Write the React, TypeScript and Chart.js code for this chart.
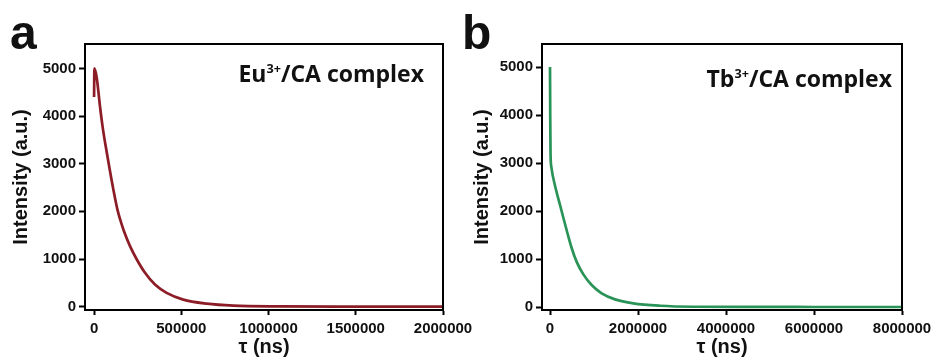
import React, { useEffect, useRef } from "react";
import { Chart, registerables } from "chart.js";

Chart.register(...registerables);

// ---- Data ----
const euTime = [0, 1700, 15000, 34000, 48000, 63000, 86000, 110000, 135000, 152000, 170000, 206000, 245000, 292000, 349000, 416000, 511000, 645000, 798000, 1065000, 1500000, 2000000];
const euIntensity = [4400, 5000, 4810, 4200, 3800, 3445, 2955, 2470, 2020, 1800, 1600, 1270, 990, 710, 463, 288, 147, 63, 21, 6, 2, 0];

const tbTime = [0, 5000, 12000, 30000, 121000, 227000, 303000, 379000, 492000, 606000, 758000, 947000, 1174000, 1477000, 1894000, 2500000, 3257000, 4500000, 6000000, 8000000];
const tbIntensity = [5000, 4000, 3200, 2920, 2500, 2130, 1860, 1600, 1230, 940, 680, 458, 285, 160, 77, 27, 6, 2, 1, 0];

const euXTicks = [0, 500000, 1000000, 1500000, 2000000];
const tbXTicks = [0, 2000000, 4000000, 6000000, 8000000];
const yTicks = [0, 1000, 2000, 3000, 4000, 5000];

const yTitle = "Intensity (a.u.)";
const xTitle = "τ (ns)";

const tickFont = { family: "'Liberation Sans', Arial, sans-serif", size: 15, weight: "bold" as const };
const titleFont = { family: "'Liberation Sans', Arial, sans-serif", size: 20, weight: "bold" as const };

const framePlugin = {
  id: "frame",
  afterDraw(chart: any) {
    const { ctx, chartArea } = chart;
    ctx.save();
    ctx.strokeStyle = "#000";
    ctx.lineWidth = 2;
    ctx.strokeRect(chartArea.left, chartArea.top, chartArea.right - chartArea.left, chartArea.bottom - chartArea.top);
    ctx.restore();
  },
};

type PanelOpts = {
  xs: number[];
  ys: number[];
  color: string;
  xMin: number;
  xMax: number;
  yMin: number;
  yMax: number;
  xTicks: number[];
  yAxisWidth: number;
  padRight: number;
  yTitlePad: number;
};

function makeConfig(p: PanelOpts): any {
  return {
    type: "line",
    data: {
      datasets: [
        {
          data: p.xs.map((x, i) => ({ x, y: p.ys[i] })),
          borderColor: p.color,
          borderWidth: 2.7,
          pointRadius: 0,
          fill: false,
          cubicInterpolationMode: "monotone",
        },
      ],
    },
    options: {
      animation: false,
      responsive: false,
      devicePixelRatio: 1,
      layout: { padding: { left: 0, top: 44, right: p.padRight, bottom: 0 } },
      plugins: { legend: { display: false }, tooltip: { enabled: false } },
      scales: {
        x: {
          type: "linear",
          min: p.xMin,
          max: p.xMax,
          afterBuildTicks: (s: any) => {
            s.ticks = p.xTicks.map((v) => ({ value: v }));
          },
          afterFit: (s: any) => {
            s.height = 50;
            s.paddingLeft = 0;
            s.paddingRight = 0;
          },
          grid: { drawOnChartArea: false, drawTicks: true, tickLength: 5, tickWidth: 2, tickColor: "#000" },
          border: { display: true, color: "#000", width: 2 },
          ticks: {
            color: "#111",
            font: tickFont,
            padding: 5,
            maxRotation: 0,
            autoSkip: false,
            callback: (v: any) => String(v),
          },
          title: { display: true, text: xTitle, color: "#111", font: titleFont, padding: { top: 0, bottom: 1 } },
        },
        y: {
          type: "linear",
          min: p.yMin,
          max: p.yMax,
          afterBuildTicks: (s: any) => {
            s.ticks = yTicks.map((v) => ({ value: v }));
          },
          afterFit: (s: any) => {
            s.width = p.yAxisWidth;
            s.paddingTop = 0;
            s.paddingBottom = 0;
          },
          grid: { drawOnChartArea: false, drawTicks: true, tickLength: 6, tickWidth: 2, tickColor: "#000" },
          border: { display: true, color: "#000", width: 2 },
          ticks: {
            color: "#111",
            font: tickFont,
            padding: 3,
            autoSkip: false,
            callback: (v: any) => String(v),
          },
          title: { display: true, text: yTitle, color: "#111", font: titleFont, padding: { top: p.yTitlePad, bottom: 0 } },
        },
      },
    },
    plugins: [framePlugin],
  };
}

function Panel({ left, width, opts }: { left: number; width: number; opts: PanelOpts }) {
  const ref = useRef<HTMLCanvasElement | null>(null);
  useEffect(() => {
    if (!ref.current) return;
    const chart = new Chart(ref.current, makeConfig(opts));
    return () => chart.destroy();
  }, []);
  return (
    <canvas
      ref={ref}
      width={width}
      height={360}
      style={{ position: "absolute", left, top: 0, width, height: 360 }}
    />
  );
}

const labelStyle: React.CSSProperties = {
  position: "absolute",
  font: "bold 48px 'Liberation Sans', Arial, sans-serif",
  lineHeight: "48px",
  color: "#111",
};

const annoStyle: React.CSSProperties = {
  position: "absolute",
  font: "700 23px 'Open Sans', Lato, sans-serif",
  lineHeight: "23px",
  color: "#111",
  whiteSpace: "nowrap",
};

const supStyle: React.CSSProperties = {
  fontSize: "0.55em",
  position: "relative",
  top: "-0.7em",
};

export default function App() {
  return (
    <div style={{ position: "absolute", left: 0, top: 0, width: 935, height: 360, background: "#fff", overflow: "hidden" }}>
      <Panel
        left={0}
        width={490}
        opts={{
          xs: euTime,
          ys: euIntensity,
          color: "#8c1c26",
          xMin: -52000,
          xMax: 2000000,
          yMin: -70,
          yMax: 5512,
          xTicks: euXTicks,
          yAxisWidth: 85,
          padRight: 490 - 443,
          yTitlePad: 9,
        }}
      />
      <Panel
        left={467}
        width={468}
        opts={{
          xs: tbTime,
          ys: tbIntensity,
          color: "#2a9358",
          xMin: -182000,
          xMax: 8000000,
          yMin: -62,
          yMax: 5480,
          xTicks: tbXTicks,
          yAxisWidth: 75,
          padRight: 468 - 435,
          yTitlePad: 3,
        }}
      />
      <div style={{ ...labelStyle, left: 10, top: 9 }}>a</div>
      <div style={{ ...labelStyle, left: 462, top: 9 }}>b</div>
      <div style={{ ...annoStyle, right: 935 - 424, top: 62 }}>
        Eu<span style={supStyle}>3+</span>/CA complex
      </div>
      <div style={{ ...annoStyle, right: 935 - 892, top: 67 }}>
        Tb<span style={supStyle}>3+</span>/CA complex
      </div>
    </div>
  );
}
